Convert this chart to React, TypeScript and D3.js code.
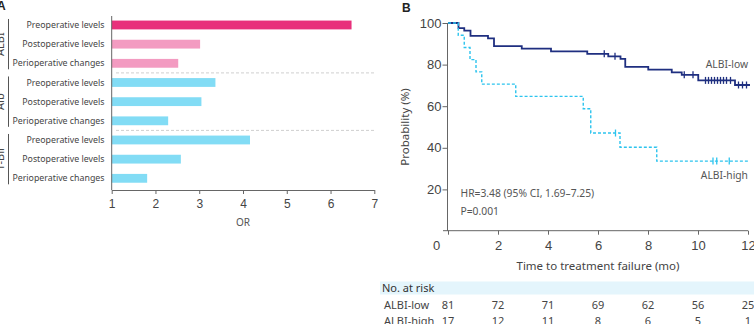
import React, { useEffect, useRef } from 'react';
import * as d3 from 'd3';

// Panel A: odds ratios per marker
const groupNames = ['ALBI', 'Alb', 'T-Bil'];
const rowLabels = ['Preoperative levels', 'Postoperative levels', 'Perioperative changes'];
const orValues = [6.48, 3.02, 2.52, 3.37, 3.05, 2.29, 4.16, 2.58, 1.81];
const orTicks = [1, 2, 3, 4, 5, 6, 7];

// Panel B: Kaplan-Meier steps (time in months, probability in %)
const lowTimes = [0, 0.42, 0.65, 0.9, 1.6, 1.84, 2.95, 4.12, 5.57, 6.41, 6.9, 7.09, 8.01, 8.95, 9.35, 10.01, 11.48];
const lowSurv = [100, 97.5, 96.3, 93.8, 92.6, 88.9, 87.7, 86.4, 85.2, 84.0, 82.8, 78.9, 77.6, 76.3, 75.1, 72.4, 70.2];
const lowEnd = 12.08;
const lowCensor = [6.25, 6.68, 9.45, 9.8, 10.3, 10.42, 10.54, 10.66, 10.78, 10.9, 11.02, 11.14, 11.3, 11.62, 11.78, 11.94];

const highTimes = [0, 0.41, 0.65, 0.88, 1.12, 1.35, 2.71, 5.41, 5.71, 6.88, 8.35];
const highSurv = [100, 94.1, 88.2, 82.4, 76.5, 70.6, 64.7, 58.8, 47.1, 40.3, 33.6];
const highEnd = 12.0;
const highCensor = [6.7, 10.6, 10.75, 11.25];

const timeTicks = [0, 2, 4, 6, 8, 10, 12];
const probTicks = [20, 40, 60, 80, 100];
const riskLow = [81, 72, 71, 69, 62, 56, 25];
const riskHigh = [17, 12, 11, 8, 6, 5, 1];

const TEXT = '"Noto Sans", "Open Sans", sans-serif';
const NUM = '"Liberation Sans", Arial, sans-serif';

const App = () => {
  const svgRef = useRef<SVGSVGElement>(null);

  useEffect(() => {
    const svg = d3.select(svgRef.current);
    svg.selectAll('*').remove();

    // ---------- Panel A ----------
    const a = svg.append('g');
    const rows = d3.range(orValues.length);
    const x = d3.scaleLinear().domain([1, 7]).range([111.7, 374.3]);
    const y = d3.scaleBand<number>()
      .domain(rows)
      .range([15.4, 187.9])
      .paddingInner(0.54)
      .paddingOuter(0.27);
    const barColor = (i: number) => (i === 0 ? '#e8307b' : i < 3 ? '#f39bc1' : '#82dcf5');

    // dashed separators between groups
    [3, 6].forEach((r) => {
      const yy = (y(r - 1)! + y.bandwidth() / 2 + y(r)! + y.bandwidth() / 2) / 2;
      a.append('line')
        .attr('x1', 116).attr('x2', 376)
        .attr('y1', yy).attr('y2', yy)
        .attr('stroke', '#cfcfcf')
        .attr('stroke-dasharray', '3,2');
    });

    a.selectAll('.bar')
      .data(orValues)
      .enter()
      .append('rect')
      .attr('x', x(1))
      .attr('y', (_d, i) => y(i)!)
      .attr('width', (d) => x(d) - x(1))
      .attr('height', y.bandwidth())
      .attr('fill', (_d, i) => barColor(i));

    a.selectAll('.rowlabel')
      .data(rows)
      .enter()
      .append('text')
      .attr('x', 104.5)
      .attr('y', (i) => y(i)! + y.bandwidth() / 2)
      .attr('dy', '0.35em')
      .attr('text-anchor', 'end')
      .attr('font-family', TEXT)
      .attr('font-size', 8.8)
      .attr('fill', '#444')
      .text((i) => rowLabels[i % 3]);

    // group brackets and rotated names
    groupNames.forEach((name, gi) => {
      const top = y(gi * 3)! + y.bandwidth() / 2 - 6;
      const bot = y(gi * 3 + 2)! + y.bandwidth() / 2 + 6;
      a.append('line')
        .attr('x1', 8.5).attr('x2', 8.5)
        .attr('y1', top).attr('y2', bot)
        .attr('stroke', '#555')
        .attr('stroke-width', 1);
      a.append('text')
        .attr('transform', `translate(4,${(top + bot) / 2}) rotate(-90)`)
        .attr('text-anchor', 'middle')
        .attr('font-family', TEXT)
        .attr('font-size', 11)
        .attr('fill', '#444')
        .text(name);
    });

    // axes
    a.append('line')
      .attr('x1', x(1)).attr('x2', x(1))
      .attr('y1', 16).attr('y2', 190)
      .attr('stroke', '#666');
    const ax = a.append('g')
      .attr('transform', 'translate(0,190)')
      .call(d3.axisBottom(x).tickValues(orTicks).tickSize(4).tickSizeOuter(0).tickFormat(d3.format('d')));
    ax.select('.domain').attr('stroke', '#666');
    ax.selectAll('line').attr('stroke', '#666');
    ax.selectAll('text')
      .attr('font-family', NUM)
      .attr('font-size', 12)
      .attr('fill', '#444')
      .attr('dy', '0.95em');

    a.append('text')
      .attr('x', x(4))
      .attr('y', 226)
      .attr('text-anchor', 'middle')
      .attr('font-family', TEXT)
      .attr('font-size', 10)
      .attr('fill', '#555')
      .text('OR');

    a.append('text')
      .attr('x', -3).attr('y', 10)
      .attr('font-family', NUM)
      .attr('font-weight', 'bold')
      .attr('font-size', 12)
      .attr('fill', '#222')
      .text('A');

    // ---------- Panel B ----------
    const b = svg.append('g');
    const tx = d3.scaleLinear().domain([0, 12]).range([448, 748]);
    const py = d3.scaleLinear().domain([0, 100]).range([231, 23]);

    b.append('text')
      .attr('x', 402).attr('y', 12)
      .attr('font-family', NUM)
      .attr('font-weight', 'bold')
      .attr('font-size', 12)
      .attr('fill', '#222')
      .text('B');

    const yAx = b.append('g')
      .attr('transform', 'translate(447.5,0)')
      .call(d3.axisLeft(py).tickValues(probTicks).tickSize(5).tickSizeOuter(0));
    yAx.select('.domain').attr('stroke', '#666').attr('d', `M0,${py(100)}V${py(0)}`);
    yAx.selectAll('line').attr('stroke', '#666');
    yAx.selectAll('text')
      .attr('font-family', NUM)
      .attr('font-size', 13)
      .attr('fill', '#444')
      .attr('x', -6);

    const xAx = b.append('g')
      .attr('transform', 'translate(0,230.7)')
      .call(d3.axisBottom(tx).tickValues(timeTicks).tickSize(4).tickSizeOuter(0));
    xAx.select('.domain').attr('stroke', '#666').attr('d', `M443,0H${tx(12)}`);
    xAx.selectAll('line').attr('stroke', '#666');
    xAx.selectAll('text')
      .attr('font-family', NUM)
      .attr('font-size', 13)
      .attr('fill', '#444')
      .attr('dy', '0.95em')
      .attr('dx', (d) => (d === 0 ? -12 : 0));

    b.append('text')
      .attr('transform', `translate(409,${py(50)}) rotate(-90)`)
      .attr('text-anchor', 'middle')
      .attr('font-family', TEXT)
      .attr('font-size', 11.5)
      .attr('fill', '#444')
      .text('Probability (%)');

    b.append('text')
      .attr('x', tx(6))
      .attr('y', 270)
      .attr('text-anchor', 'middle')
      .attr('font-family', TEXT)
      .attr('font-size', 11.5)
      .attr('fill', '#444')
      .text('Time to treatment failure (mo)');

    // step curves
    const stepLine = d3.line<[number, number]>()
      .x((d) => tx(d[0]))
      .y((d) => py(d[1]))
      .curve(d3.curveStepAfter);
    const series = [
      { times: lowTimes, surv: lowSurv, end: lowEnd, censor: lowCensor, color: '#1f2f80', width: 1.8, dash: null },
      { times: highTimes, surv: highSurv, end: highEnd, censor: highCensor, color: '#2cc4ee', width: 1.4, dash: '3,2' },
    ];
    series.forEach((s) => {
      const pts: [number, number][] = s.times.map((t, i) => [t, s.surv[i]]);
      pts.push([s.end, s.surv[s.surv.length - 1]]);
      b.append('path')
        .datum(pts)
        .attr('fill', 'none')
        .attr('stroke', s.color)
        .attr('stroke-width', s.width)
        .attr('stroke-dasharray', s.dash)
        .attr('d', stepLine);
      const at = (t: number) => s.surv[d3.bisectRight(s.times, t) - 1];
      b.selectAll(null)
        .data(s.censor)
        .enter()
        .append('line')
        .attr('x1', (t) => tx(t)).attr('x2', (t) => tx(t))
        .attr('y1', (t) => py(at(t)) - 3.5)
        .attr('y2', (t) => py(at(t)) + 3.5)
        .attr('stroke', s.color)
        .attr('stroke-width', 1.3);
    });

    const note = (txt: string, xx: number, yy: number, anchor = 'start') =>
      b.append('text')
        .attr('x', xx).attr('y', yy)
        .attr('dy', '0.35em')
        .attr('text-anchor', anchor)
        .attr('font-family', TEXT)
        .attr('font-size', 10.3)
        .attr('fill', '#555')
        .text(txt);
    note('ALBI-low', 748, 64.5, 'end');
    note('ALBI-high', 748, 175, 'end');
    note('HR=3.48 (95% CI, 1.69–7.25)', 460.5, 193.5);
    note('P=0.001', 460.5, 211.5);

    // risk table
    b.append('rect')
      .attr('x', 380).attr('y', 281.5)
      .attr('width', 374).attr('height', 13)
      .attr('fill', '#e4f5fc');
    b.append('text')
      .attr('x', 382).attr('y', 288)
      .attr('dy', '0.35em')
      .attr('font-family', TEXT)
      .attr('font-size', 11)
      .attr('fill', '#333')
      .text('No. at risk');
    [
      { name: 'ALBI-low', vals: riskLow, yy: 305 },
      { name: 'ALBI-high', vals: riskHigh, yy: 321.5 },
    ].forEach((r) => {
      b.append('text')
        .attr('x', 384).attr('y', r.yy)
        .attr('dy', '0.35em')
        .attr('font-family', TEXT)
        .attr('font-size', 11)
        .attr('fill', '#444')
        .text(r.name);
      b.selectAll(null)
        .data(r.vals)
        .enter()
        .append('text')
        .attr('x', (_d, i) => tx(timeTicks[i]))
        .attr('y', r.yy)
        .attr('dy', '0.35em')
        .attr('text-anchor', 'middle')
        .attr('font-family', TEXT)
        .attr('font-size', 11)
        .attr('fill', '#444')
        .text((d) => d);
    });
  }, []);

  return (
    <svg
      ref={svgRef}
      width={754}
      height={324}
      style={{ position: 'absolute', left: 0, top: 0, background: '#fff' }}
    />
  );
};

export default App;
